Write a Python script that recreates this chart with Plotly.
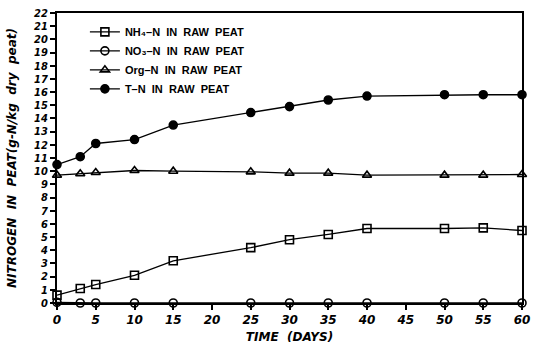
import plotly.graph_objects as go

days = [0, 3, 5, 10, 15, 25, 30, 35, 40, 50, 55, 60]
nh4_n = [0.6, 1.1, 1.4, 2.1, 3.2, 4.2, 4.8, 5.2, 5.65, 5.65, 5.7, 5.5]
no3_n = [0.05, 0.0, 0.0, 0.0, 0.0, 0.0, 0.0, 0.0, 0.0, 0.0, 0.0, 0.0]
org_n = [9.7, 9.8, 9.9, 10.05, 10.0, 9.95, 9.85, 9.85, 9.7, 9.7, 9.7, 9.75]
t_n = [10.5, 11.1, 12.1, 12.4, 13.5, 14.45, 14.9, 15.4, 15.7, 15.8, 15.8, 15.8]

series_names = ["NH₄–N  IN  RAW  PEAT", "NO₃–N  IN  RAW  PEAT",
                "Org–N  IN  RAW  PEAT", "T–N  IN  RAW  PEAT"]
x_ticks = [0, 5, 10, 15, 20, 25, 30, 35, 40, 45, 50, 55, 60]
y_ticks = list(range(0, 23))

x_tick_font = dict(family="DejaVu Sans", size=12, color="black", weight="bold", style="italic")
y_tick_font = dict(family="DejaVu Sans Condensed, DejaVu Sans", size=11, color="black", weight="bold", style="italic")
title_font = dict(family="DejaVu Sans", size=12, color="black", weight="bold", style="italic")

fig = go.Figure()
styles = [
    (nh4_n, "square-open"),
    (no3_n, "circle-open"),
    (org_n, "triangle-up-open"),
    (t_n, "circle"),
]
for (vals, sym), name in zip(styles, series_names):
    fig.add_trace(go.Scatter(
        x=days, y=vals, name=name, mode="lines+markers",
        line=dict(color="black", width=1.3),
        marker=dict(symbol=sym, size=8, color="black",
                    line=dict(color="black", width=1.6)),
        cliponaxis=False,
    ))

fig.update_layout(
    width=542, height=344,
    margin=dict(l=57, r=20, t=13, b=41),
    paper_bgcolor="white", plot_bgcolor="white",
    showlegend=True,
    legend=dict(x=0.06, y=0.985, xanchor="left", yanchor="top",
                bgcolor="rgba(0,0,0,0)", tracegroupgap=0,
                font=dict(family="Liberation Sans", size=11, color="black", weight="bold"),
                itemwidth=30),
    xaxis=dict(range=[0, 60], tickvals=x_ticks, ticktext=[str(v) for v in x_ticks],
               showgrid=False, zeroline=False, showline=True, linecolor="black",
               linewidth=1.8, mirror=True, ticks="outside", ticklen=5, tickwidth=1.5,
               tickcolor="black", tickfont=x_tick_font, automargin=False,
               title=dict(text="TIME  (DAYS)", font=title_font)),
    yaxis=dict(range=[0, 22], tickvals=y_ticks, ticktext=[str(v) for v in y_ticks],
               showgrid=False, zeroline=False, showline=True, linecolor="black",
               linewidth=1.8, mirror=True, ticks="outside", ticklen=5, tickwidth=1.5,
               tickcolor="black", tickfont=y_tick_font, automargin=False,
               title=dict(text="NITROGEN  IN  PEAT(g-N/kg  dry  peat)", font=title_font)),
)

fig.write_html("out.html")
